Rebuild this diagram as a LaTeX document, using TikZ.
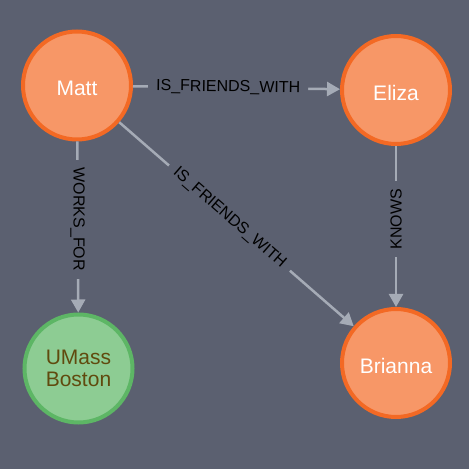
\documentclass[tikz,border=0pt]{standalone}
\usepackage{fontspec}
\setmainfont{Liberation Sans}
\usetikzlibrary{arrows.meta}
\definecolor{bg}{HTML}{5B6070}
\definecolor{orfill}{HTML}{F79767}
\definecolor{ordraw}{HTML}{F36924}
\definecolor{grfill}{HTML}{8DCC93}
\definecolor{grdraw}{HTML}{5DB665}
\definecolor{grtext}{HTML}{604A0E}
\definecolor{edgecol}{HTML}{A5ABB6}
\tikzset{
  person/.style={circle, minimum size=108pt, inner sep=0pt, line width=4pt, draw=ordraw, fill=orfill, text=white, text height=21pt, text depth=0pt, font=\fontsize{21}{22}\selectfont},
  org/.style={circle, minimum size=108pt, inner sep=0pt, line width=4pt, draw=grdraw, fill=grfill, text=grtext, align=center, font=\fontsize{21}{22}\selectfont},
  rel/.style={draw=edgecol, line width=2.5pt, -{Triangle[length=13pt,width=14pt]}},
  lbl/.style={fill=bg, text=black, inner xsep=8pt, inner ysep=1pt, font=\fontsize{16}{18}\selectfont}
}
\begin{document}
\begin{tikzpicture}[x=1pt,y=1pt]
  \fill[bg] (0,0) rectangle (469,469);
  \useasboundingbox (0,0) rectangle (469,469);
  \node[person] (matt) at (77,383.5) {Matt};
  \node[person] (eliza) at (396,379) {Eliza};
  \node[org] (umass) at (78.5,100.5) {UMass\\Boston};
  \node[person] (brianna) at (396,106) {Brianna};
  \draw[rel] (matt) -- node[lbl, pos=0.46, sloped] {IS\_FRIENDS\_WITH} (eliza);
  \draw[rel] (matt) -- node[lbl, pos=0.47, sloped] {IS\_FRIENDS\_WITH} (brianna);
  \draw[rel] (matt) -- node[lbl, pos=0.455, rotate=-90] {WORKS\_FOR} (umass);
  \draw[rel] (eliza) -- node[lbl, pos=0.455, rotate=90] {KNOWS} (brianna);
\end{tikzpicture}
\end{document}
